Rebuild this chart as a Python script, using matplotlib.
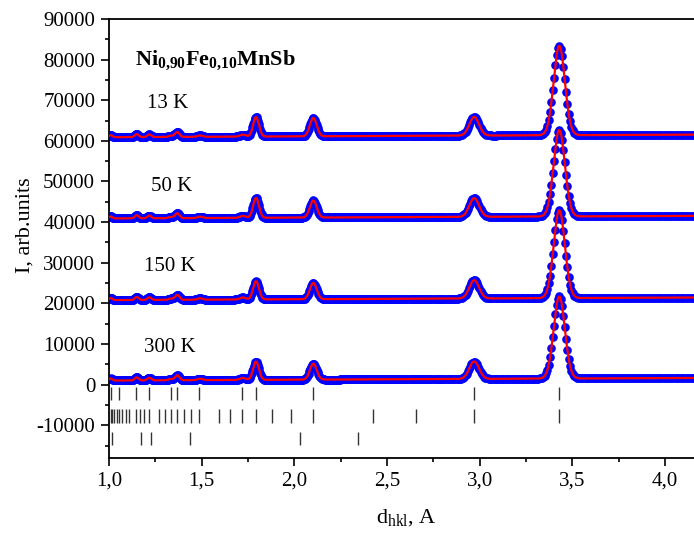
import numpy as np
import matplotlib.pyplot as plt
from matplotlib.ticker import MultipleLocator, FuncFormatter

plt.rcParams['font.family'] = ['Liberation Serif', 'DejaVu Serif']
plt.rcParams['mathtext.fontset'] = 'custom'
plt.rcParams['mathtext.rm'] = 'Liberation Serif'
plt.rcParams['mathtext.it'] = 'Liberation Serif:italic'
plt.rcParams['mathtext.bf'] = 'Liberation Serif:bold'
plt.rcParams['axes.unicode_minus'] = False

temps = ['13 K', '50 K', '150 K', '300 K']
temp_x = [1.205, 1.225, 1.190, 1.190]
temp_y = [68000, 47700, 28000, 8100]

# background: level at d = 1.0 A and rise per A
base = [60900, 40900, 20800, 1000]
bg_slope = 200

# weak reflections (same for every temperature)
small_pos = [1.009, 1.149, 1.217, 1.333, 1.368, 1.491, 1.721]
small_h = [500, 750, 650, 300, 1200, 350, 500]

# strong reflections, heights per temperature
strong_pos = [1.793, 2.102, 2.970, 3.429]
strong_h = [
    [4800, 4500, 4600, 22000],
    [4900, 4200, 4600, 21300],
    [4500, 4000, 4500, 21600],
    [4500, 3900, 4300, 20200],
]
width_rel = 0.0088  # gaussian sigma / d

# Bragg positions of the three phases
hkl_1 = [1.009, 1.054, 1.146, 1.216, 1.333, 1.367, 1.487, 1.718, 1.792,
         2.100, 2.969, 3.425]
hkl_2 = [1.010, 1.018, 1.029, 1.042, 1.056, 1.072, 1.090, 1.108, 1.146,
         1.166, 1.189, 1.216, 1.270, 1.300, 1.333, 1.367, 1.403, 1.441,
         1.487, 1.592, 1.651, 1.718, 1.792, 1.881, 1.982, 2.100, 2.422,
         2.654, 2.969, 3.425]
hkl_3 = [1.018, 1.174, 1.227, 1.437, 2.030, 2.343]
hkl_rows = [(hkl_1, -700, -3700), (hkl_2, -6100, -9400), (hkl_3, -11700, -14900)]


def profile(d, k):
    y = base[k] + bg_slope * (d - 1.0)
    for p, h in zip(small_pos + strong_pos, small_h + strong_h[k]):
        s = width_rel * p
        y = y + h * np.exp(-0.5 * ((d - p) / s) ** 2)
    return y


d_obs = np.geomspace(1.0, 4.16, 680)
d_calc = np.linspace(1.0, 4.16, 3000)

fig = plt.figure(figsize=(6.94, 5.35), dpi=100)
ax = fig.add_axes([0.1571, 0.1445, 0.8429, 0.8200])

for k in range(len(temps)):
    ax.scatter(d_obs, profile(d_obs, k), s=6.2 ** 2, color='blue',
               linewidths=0, zorder=2)
    ax.plot(d_calc, profile(d_calc, k), color='red', lw=1.6, zorder=3)
    ax.text(temp_x[k], temp_y[k], temps[k], fontsize=15, va='baseline')

for pos, lo, hi in hkl_rows:
    ax.vlines(pos, lo, hi, color='#333333', lw=1.0)

ax.text(1.14, 78600, r'$\mathbf{Ni_{0{,}90}Fe_{0{,}10}MnSb}$', fontsize=16, va='baseline')

ax.set_xlim(1.0, 4.156)
ax.set_ylim(-18000, 90000)
ax.xaxis.set_major_locator(MultipleLocator(0.5))
ax.xaxis.set_minor_locator(MultipleLocator(0.25))
ax.yaxis.set_major_locator(MultipleLocator(10000))
ax.yaxis.set_minor_locator(MultipleLocator(5000))
ax.xaxis.set_major_formatter(FuncFormatter(lambda v, _: f'{v:.1f}'.replace('.', ',')))
ax.yaxis.set_major_formatter(FuncFormatter(lambda v, _: f'{v:.0f}'))

ax.tick_params(which='both', direction='out', top=False, right=False,
               labelsize=15, pad=4, width=1.2)
ax.tick_params(which='major', length=6)
ax.tick_params(which='minor', length=3)
for s in ax.spines.values():
    s.set_linewidth(1.3)
ax.spines['right'].set_visible(False)

ax.set_ylabel('I, arb.units', fontsize=16)
ax.yaxis.set_label_coords(-0.127, 0.53)
ax.set_xlabel(r'd$_{\rm hkl}$, A', fontsize=16)
ax.xaxis.set_label_coords(0.509, -0.112)

fig.savefig('out.png', dpi=100)
